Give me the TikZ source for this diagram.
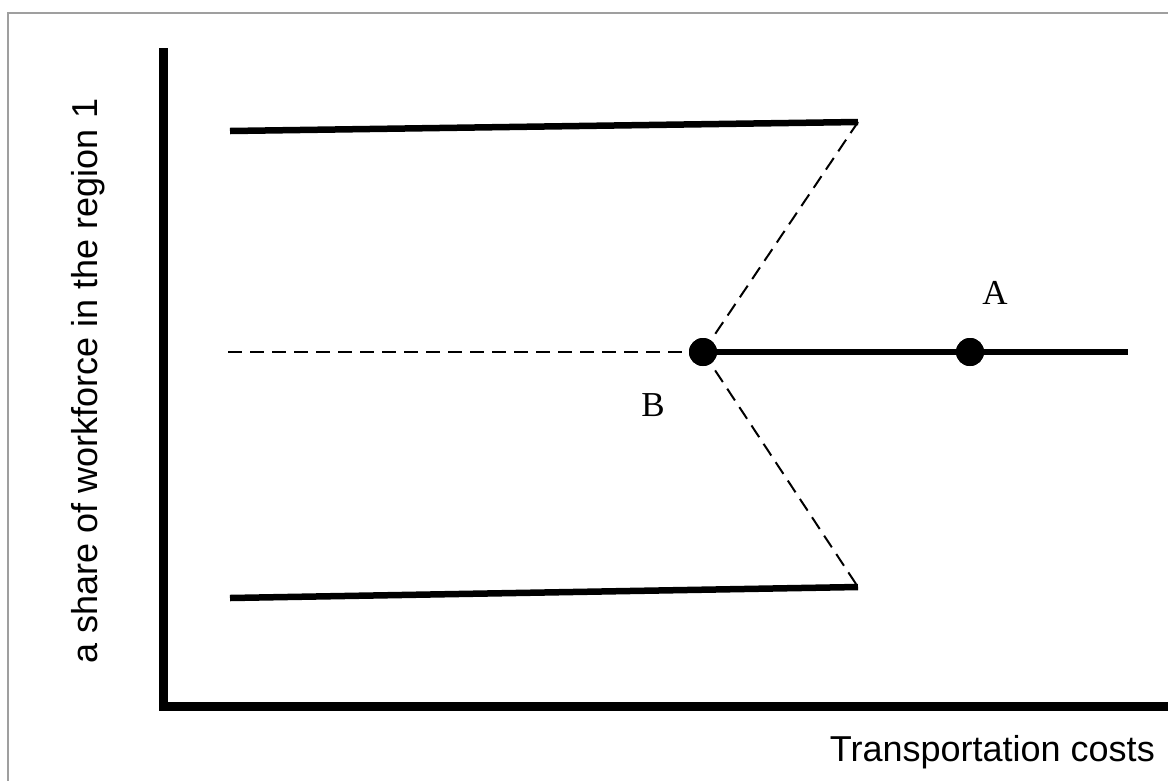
\documentclass[tikz,border=0pt]{standalone}
\usepackage{fontspec}
\setmainfont{Liberation Serif}
\newfontfamily\arialf{Liberation Sans}
\begin{document}
\begin{tikzpicture}[x=1pt,y=-1pt,
  axisline/.style={line width=9pt, line join=miter, black},
  branch/.style={line width=6.5pt, black},
  dashline/.style={line width=2pt, black, dash pattern=on 14pt off 8pt},
  dot/.style={circle, fill=black, inner sep=0pt, minimum size=28pt},
  ptlabel/.style={font=\fontsize{35}{38}\selectfont, inner sep=0pt},
  axlabel/.style={font=\arialf\fontsize{36}{40}\selectfont, inner sep=0pt}]
\useasboundingbox (0,0) rectangle (1168,780);
\clip (0,0) rectangle (1168,780);
\fill[white] (0,0) rectangle (1168,780);
% frame
\draw[gray!75, line width=1.6pt] (8,800) -- (8,13) -- (1200,13);
% coordinates
\coordinate (yt) at (163,48);
\coordinate (o) at (163,706);
\coordinate (xe) at (1175,706);
\coordinate (ul) at (230,131);
\coordinate (ur) at (858,122);
\coordinate (ll) at (230,598);
\coordinate (lr) at (858,587);
\coordinate (ml) at (228,352);
\coordinate (mr) at (1128,352);
% dots
\node[dot] (B) at (703,352) {};
\node[dot] (A) at (970,352) {};
% axes
\draw[axisline] (yt) -- (o) -- (xe);
% branches
\draw[branch] (ul) -- (ur);
\draw[branch] (ll) -- (lr);
\draw[dashline] (ml) -- (B.center);
\draw[dashline] (B.center) -- (ur);
\draw[dashline] (B.center) -- (lr);
\draw[branch] (B.center) -- (mr);
\node[dot] at (B.center) {};
\node[dot] at (A.center) {};
% labels
\node[ptlabel, anchor=base] (lA) at (995,304) {A};
\node[ptlabel, anchor=base] (lB) at (653,416) {B};
\node[axlabel, anchor=base, rotate=90] (ylab) at (97,381) {a share of workforce in the region 1};
\node[axlabel, anchor=base east] (xlab) at (1155,761) {Transportation costs};
\end{tikzpicture}
\end{document}
